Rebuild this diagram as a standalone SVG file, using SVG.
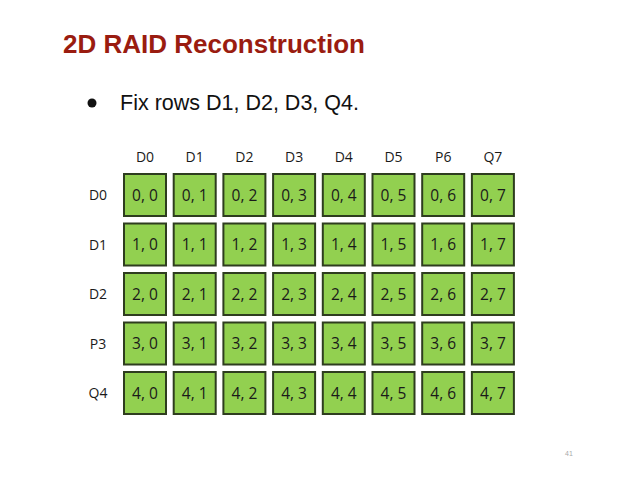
<svg xmlns="http://www.w3.org/2000/svg" width="638" height="479" viewBox="0 0 638 479">
<style>
.cell rect{fill:#92d050;stroke:#2e3d1f;stroke-width:2}
.cell text{font-family:"Open Sans","Noto Sans",sans-serif;font-size:15.5px;fill:#1a1a1a;text-anchor:middle}
.lbl{font-family:"Open Sans","Noto Sans",sans-serif;font-size:14px;fill:#1a1a1a;text-anchor:middle}
</style>
<rect width="638" height="479" fill="#fff"/>
<text x="63" y="53" font-family="Liberation Sans,Arial,sans-serif" font-size="26" font-weight="bold" fill="#9a1c10">2D RAID Reconstruction</text>
<circle cx="92" cy="103" r="4.5" fill="#111"/>
<text x="120" y="110" font-family="Liberation Sans,Arial,sans-serif" font-size="21.5" fill="#111">Fix rows D1, D2, D3, Q4.</text>
<g id="col-labels">
<text class="lbl" x="145" y="162">D0</text>
<text class="lbl" x="194.7" y="162">D1</text>
<text class="lbl" x="244.4" y="162">D2</text>
<text class="lbl" x="294.1" y="162">D3</text>
<text class="lbl" x="343.8" y="162">D4</text>
<text class="lbl" x="393.5" y="162">D5</text>
<text class="lbl" x="443.2" y="162">P6</text>
<text class="lbl" x="492.9" y="162">Q7</text>
</g>
<g id="row-labels">
<text class="lbl" x="98" y="200">D0</text>
<text class="lbl" x="98" y="249.5">D1</text>
<text class="lbl" x="98" y="299">D2</text>
<text class="lbl" x="98" y="348.5">P3</text>
<text class="lbl" x="98" y="398">Q4</text>
</g>
<g id="grid">
<g id="c00" class="cell"><rect x="124" y="174" width="42" height="42"/><text x="145" y="200.5">0, 0</text></g>
<g id="c01" class="cell"><rect x="173.7" y="174" width="42" height="42"/><text x="194.7" y="200.5">0, 1</text></g>
<g id="c02" class="cell"><rect x="223.4" y="174" width="42" height="42"/><text x="244.4" y="200.5">0, 2</text></g>
<g id="c03" class="cell"><rect x="273.1" y="174" width="42" height="42"/><text x="294.1" y="200.5">0, 3</text></g>
<g id="c04" class="cell"><rect x="322.8" y="174" width="42" height="42"/><text x="343.8" y="200.5">0, 4</text></g>
<g id="c05" class="cell"><rect x="372.5" y="174" width="42" height="42"/><text x="393.5" y="200.5">0, 5</text></g>
<g id="c06" class="cell"><rect x="422.2" y="174" width="42" height="42"/><text x="443.2" y="200.5">0, 6</text></g>
<g id="c07" class="cell"><rect x="471.9" y="174" width="42" height="42"/><text x="492.9" y="200.5">0, 7</text></g>

<g id="c10" class="cell"><rect x="124" y="223.5" width="42" height="42"/><text x="145" y="250">1, 0</text></g>
<g id="c11" class="cell"><rect x="173.7" y="223.5" width="42" height="42"/><text x="194.7" y="250">1, 1</text></g>
<g id="c12" class="cell"><rect x="223.4" y="223.5" width="42" height="42"/><text x="244.4" y="250">1, 2</text></g>
<g id="c13" class="cell"><rect x="273.1" y="223.5" width="42" height="42"/><text x="294.1" y="250">1, 3</text></g>
<g id="c14" class="cell"><rect x="322.8" y="223.5" width="42" height="42"/><text x="343.8" y="250">1, 4</text></g>
<g id="c15" class="cell"><rect x="372.5" y="223.5" width="42" height="42"/><text x="393.5" y="250">1, 5</text></g>
<g id="c16" class="cell"><rect x="422.2" y="223.5" width="42" height="42"/><text x="443.2" y="250">1, 6</text></g>
<g id="c17" class="cell"><rect x="471.9" y="223.5" width="42" height="42"/><text x="492.9" y="250">1, 7</text></g>

<g id="c20" class="cell"><rect x="124" y="273" width="42" height="42"/><text x="145" y="299.5">2, 0</text></g>
<g id="c21" class="cell"><rect x="173.7" y="273" width="42" height="42"/><text x="194.7" y="299.5">2, 1</text></g>
<g id="c22" class="cell"><rect x="223.4" y="273" width="42" height="42"/><text x="244.4" y="299.5">2, 2</text></g>
<g id="c23" class="cell"><rect x="273.1" y="273" width="42" height="42"/><text x="294.1" y="299.5">2, 3</text></g>
<g id="c24" class="cell"><rect x="322.8" y="273" width="42" height="42"/><text x="343.8" y="299.5">2, 4</text></g>
<g id="c25" class="cell"><rect x="372.5" y="273" width="42" height="42"/><text x="393.5" y="299.5">2, 5</text></g>
<g id="c26" class="cell"><rect x="422.2" y="273" width="42" height="42"/><text x="443.2" y="299.5">2, 6</text></g>
<g id="c27" class="cell"><rect x="471.9" y="273" width="42" height="42"/><text x="492.9" y="299.5">2, 7</text></g>

<g id="c30" class="cell"><rect x="124" y="322.5" width="42" height="42"/><text x="145" y="349">3, 0</text></g>
<g id="c31" class="cell"><rect x="173.7" y="322.5" width="42" height="42"/><text x="194.7" y="349">3, 1</text></g>
<g id="c32" class="cell"><rect x="223.4" y="322.5" width="42" height="42"/><text x="244.4" y="349">3, 2</text></g>
<g id="c33" class="cell"><rect x="273.1" y="322.5" width="42" height="42"/><text x="294.1" y="349">3, 3</text></g>
<g id="c34" class="cell"><rect x="322.8" y="322.5" width="42" height="42"/><text x="343.8" y="349">3, 4</text></g>
<g id="c35" class="cell"><rect x="372.5" y="322.5" width="42" height="42"/><text x="393.5" y="349">3, 5</text></g>
<g id="c36" class="cell"><rect x="422.2" y="322.5" width="42" height="42"/><text x="443.2" y="349">3, 6</text></g>
<g id="c37" class="cell"><rect x="471.9" y="322.5" width="42" height="42"/><text x="492.9" y="349">3, 7</text></g>

<g id="c40" class="cell"><rect x="124" y="372" width="42" height="42"/><text x="145" y="398.5">4, 0</text></g>
<g id="c41" class="cell"><rect x="173.7" y="372" width="42" height="42"/><text x="194.7" y="398.5">4, 1</text></g>
<g id="c42" class="cell"><rect x="223.4" y="372" width="42" height="42"/><text x="244.4" y="398.5">4, 2</text></g>
<g id="c43" class="cell"><rect x="273.1" y="372" width="42" height="42"/><text x="294.1" y="398.5">4, 3</text></g>
<g id="c44" class="cell"><rect x="322.8" y="372" width="42" height="42"/><text x="343.8" y="398.5">4, 4</text></g>
<g id="c45" class="cell"><rect x="372.5" y="372" width="42" height="42"/><text x="393.5" y="398.5">4, 5</text></g>
<g id="c46" class="cell"><rect x="422.2" y="372" width="42" height="42"/><text x="443.2" y="398.5">4, 6</text></g>
<g id="c47" class="cell"><rect x="471.9" y="372" width="42" height="42"/><text x="492.9" y="398.5">4, 7</text></g>
</g>
<g id="connectors"/>
<text x="569" y="456" font-family="Liberation Sans,Arial,sans-serif" font-size="7" fill="#aaa" text-anchor="middle">41</text>
</svg>
